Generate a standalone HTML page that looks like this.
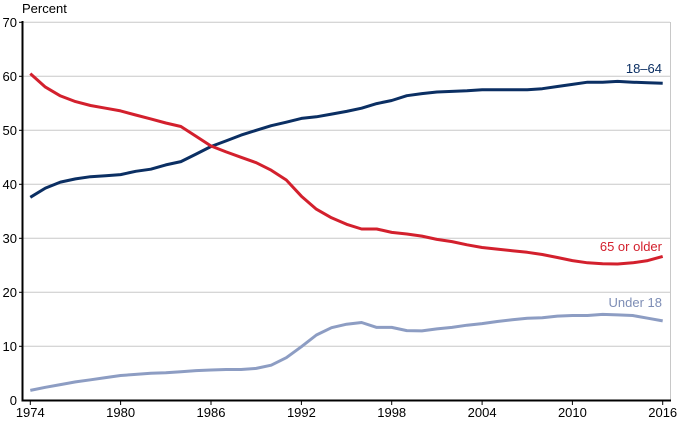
<!DOCTYPE html>
<html><head><meta charset="utf-8"><style>
html,body{margin:0;padding:0;background:#fff;}
svg{display:block;font-family:"Liberation Sans",Arial,sans-serif;}
</style></head><body>
<svg width="678" height="423" viewBox="0 0 678 423" xmlns="http://www.w3.org/2000/svg">
<g stroke="#c8c8c8" stroke-width="1">
<line x1="22" y1="22.3" x2="670" y2="22.3"/>
<line x1="22" y1="76.3" x2="670" y2="76.3"/>
<line x1="22" y1="130.3" x2="670" y2="130.3"/>
<line x1="22" y1="184.3" x2="670" y2="184.3"/>
<line x1="22" y1="238.3" x2="670" y2="238.3"/>
<line x1="22" y1="292.3" x2="670" y2="292.3"/>
<line x1="22" y1="346.3" x2="670" y2="346.3"/>
<line x1="670.5" y1="22" x2="670.5" y2="400"/>
</g>
<g stroke="#000" stroke-width="1">
<line x1="19" y1="22.3" x2="23" y2="22.3"/>
<line x1="19" y1="76.3" x2="23" y2="76.3"/>
<line x1="19" y1="130.3" x2="23" y2="130.3"/>
<line x1="19" y1="184.3" x2="23" y2="184.3"/>
<line x1="19" y1="238.3" x2="23" y2="238.3"/>
<line x1="19" y1="292.3" x2="23" y2="292.3"/>
<line x1="19" y1="346.3" x2="23" y2="346.3"/>
<line x1="30.3" y1="400" x2="30.3" y2="405"/>
<line x1="120.6" y1="400" x2="120.6" y2="405"/>
<line x1="211" y1="400" x2="211" y2="405"/>
<line x1="301.4" y1="400" x2="301.4" y2="405"/>
<line x1="391.7" y1="400" x2="391.7" y2="405"/>
<line x1="482.1" y1="400" x2="482.1" y2="405"/>
<line x1="572.4" y1="400" x2="572.4" y2="405"/>
<line x1="662.7" y1="400" x2="662.7" y2="405"/>
</g>
<line x1="22.5" y1="21" x2="22.5" y2="401.5" stroke="#000" stroke-width="2"/>
<line x1="21.5" y1="400.5" x2="671" y2="400.5" stroke="#000" stroke-width="2"/>
<g font-size="13" fill="#000" text-anchor="end">
<text x="17" y="27">70</text>
<text x="17" y="81">60</text>
<text x="17" y="135">50</text>
<text x="17" y="189">40</text>
<text x="17" y="243">30</text>
<text x="17" y="297">20</text>
<text x="17" y="351">10</text>
<text x="17" y="405">0</text>
</g>
<text x="22" y="13" font-size="13" fill="#000">Percent</text>
<g font-size="13" fill="#000" text-anchor="middle">
<text x="30.3" y="417">1974</text>
<text x="120.6" y="417">1980</text>
<text x="211" y="417">1986</text>
<text x="301.4" y="417">1992</text>
<text x="391.7" y="417">1998</text>
<text x="482.1" y="417">2004</text>
<text x="572.4" y="417">2010</text>
<text x="662.7" y="417">2016</text>
</g>
<g fill="none" stroke-width="3" stroke-linejoin="round" stroke-linecap="butt">
<polyline id="a" stroke="#0b2f63" points="30.3,197.3 45.4,188.1 60.4,182.1 75.5,178.9 90.5,176.7 105.6,175.7 120.6,174.6 135.7,171.3 150.8,169.2 165.8,164.9 180.9,161.6 196,154.1 211,146.5 226.1,140.9 241.1,135.1 256.2,130.3 271.2,125.7 286.3,122.2 301.4,118.4 316.4,116.8 331.5,114.1 346.6,111.4 361.6,108.2 376.7,103.6 391.7,100.5 406.8,95.7 421.9,93.6 436.9,92 452,91.4 467,90.8 482.1,89.8 497.2,89.8 512.2,89.8 527.3,89.8 542.3,88.7 557.4,86.5 572.4,84.4 587.5,82.2 602.6,82.2 617.6,81.4 632.7,82.2 647.7,82.8 662.7,83.3"/>
<polyline stroke="#d3202d" points="30.3,73.6 45.4,87.1 60.4,95.9 75.5,101.6 90.5,105.5 105.6,108.2 120.6,110.9 135.7,115 150.8,118.9 165.8,123 180.9,126.5 196,136.3 211,146 226.1,151.9 241.1,157.3 256.2,162.7 271.2,170.2 286.3,180 301.4,196.2 316.4,209.2 331.5,217.8 346.6,224.3 361.6,229 376.7,229 391.7,232.4 406.8,234 421.9,236.1 436.9,239.4 452,241.6 467,244.8 482.1,247.5 497.2,249.1 512.2,250.7 527.3,252.3 542.3,254.5 557.4,257.5 572.4,260.6 587.5,262.8 602.6,263.8 617.6,264 632.7,262.8 647.7,260.6 662.7,256.4"/>
<polyline stroke="#8d9dc3" points="30.3,390.4 45.4,387.3 60.4,384.6 75.5,381.9 90.5,379.8 105.6,377.6 120.6,375.5 135.7,374.4 150.8,373.3 165.8,372.8 180.9,371.7 196,370.6 211,370 226.1,369.5 241.1,369.5 256.2,368.4 271.2,365.2 286.3,357.7 301.4,346.7 316.4,335 331.5,327.7 346.6,324.2 361.6,322.5 376.7,327.4 391.7,327.4 406.8,330.6 421.9,330.9 436.9,328.9 452,327.4 467,325.2 482.1,323.6 497.2,321.5 512.2,319.8 527.3,318.2 542.3,317.7 557.4,316.1 572.4,315.5 587.5,315.5 602.6,314.4 617.6,314.9 632.7,315.5 647.7,318.2 662.7,320.9"/>
</g>
<g font-size="13" text-anchor="end">
<text x="662" y="73" fill="#0b2f63">18–64</text>
<text x="662" y="251" fill="#d3202d">65 or older</text>
<text x="662" y="307" fill="#7d8db5">Under 18</text>
</g>
</svg>
</body></html>
